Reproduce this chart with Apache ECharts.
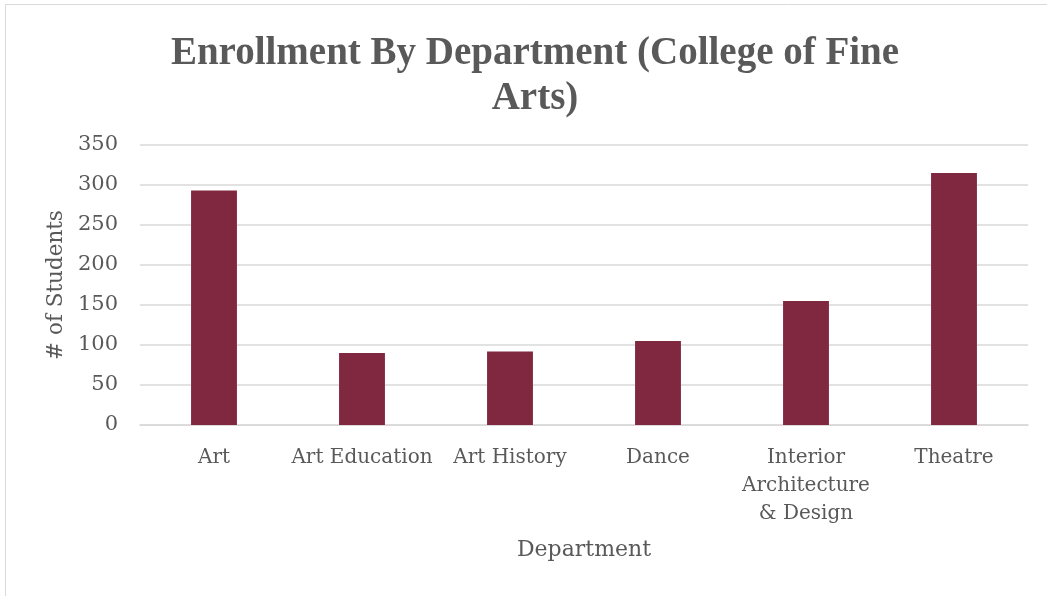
<!DOCTYPE html>
<html><head><meta charset="utf-8">
<script src="https://cdn.jsdelivr.net/npm/echarts@6/dist/echarts.min.js"></script>
<style>html,body{margin:0;padding:0;background:#fff}#c{width:1047px;height:596px}</style>
</head><body><div id="c"></div>
<script>
const categories = ["Art", "Art Education", "Art History", "Dance", "Interior\nArchitecture\n& Design", "Theatre"];
const students = [293, 90, 92, 105, 155, 315];
const yTicks = {min: 0, max: 350, interval: 50};
const titleText = "Enrollment By Department (College of Fine\nArts)";

const chart = echarts.init(document.getElementById('c'));
const txt = '#595959';
const font = "'DejaVu Serif', serif";
chart.setOption({
  backgroundColor: '#fff',
  animation: false,
  graphic: [{type: 'rect', shape: {x: 5.5, y: 4.5, width: 1060, height: 620}, style: {fill: 'none', stroke: '#d9d9d9', lineWidth: 1}, silent: true}],
  title: {
    text: titleText, left: 530, top: 26, textAlign: 'center',
    textStyle: {fontFamily: "'Liberation Serif', serif", fontWeight: 'bold', fontSize: 39, color: txt, lineHeight: 45}
  },
  grid: {left: 140, right: 19, top: 145, bottom: 171},
  xAxis: {
    type: 'category', data: categories,
    name: 'Department', nameLocation: 'middle', nameGap: 114,
    nameTextStyle: {fontFamily: font, fontSize: 22, color: txt},
    axisLine: {show: true, lineStyle: {color: '#d9d9d9', width: 1.5}},
    axisTick: {show: false},
    axisLabel: {fontFamily: font, fontSize: 20, color: txt, lineHeight: 28, margin: 19, interval: 0}
  },
  yAxis: {
    type: 'value', min: yTicks.min, max: yTicks.max, interval: yTicks.interval,
    name: '# of Students', nameLocation: 'middle', nameGap: 72,
    nameTextStyle: {fontFamily: font, fontSize: 21.5, color: txt},
    axisLine: {show: false}, axisTick: {show: false},
    axisLabel: {fontFamily: font, fontSize: 21, color: txt, margin: 22, padding: [3, 0, 0, 0]},
    splitLine: {lineStyle: {color: '#d9d9d9', width: 1.5}}
  },
  series: [{
    type: 'bar', data: students, barWidth: '31%',
    itemStyle: {color: '#80283F'}
  }]
});
</script></body></html>
